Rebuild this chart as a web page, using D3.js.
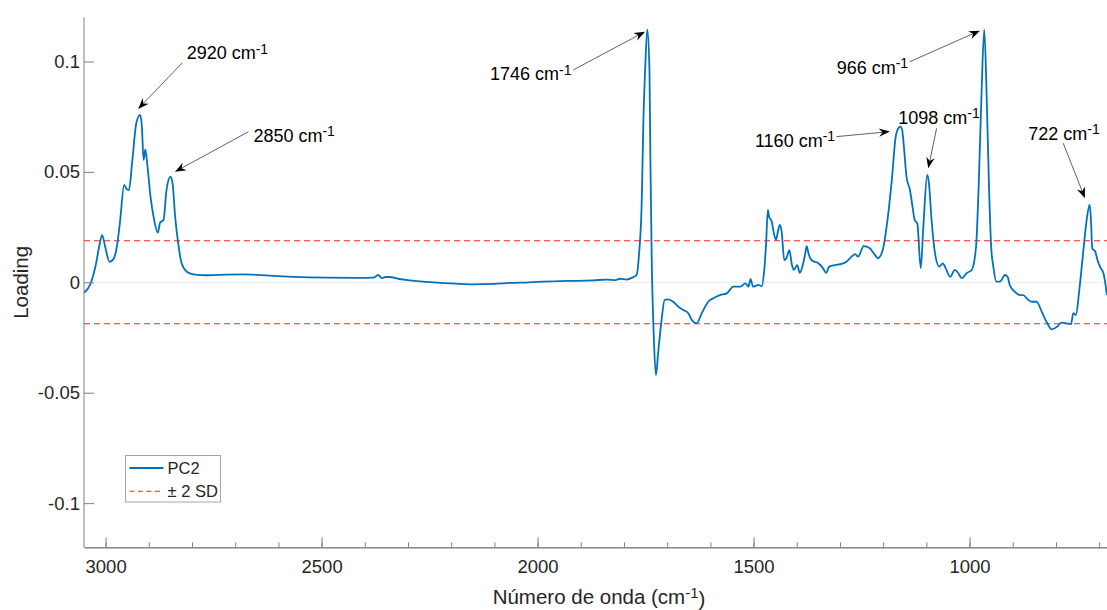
<!DOCTYPE html>
<html>
<head>
<meta charset="utf-8">
<script src="https://cdn.jsdelivr.net/npm/d3@7/dist/d3.min.js"></script>
<style>
  html, body { margin: 0; padding: 0; background: #fff; }
  svg { display: block; font-family: "Liberation Sans", Arial, sans-serif; }
</style>
</head>
<body>
<svg id="chart" width="1107" height="610"></svg>
<script>
// PC2 loading spectrum (wavenumber in cm^-1, loading)
const wavenumbers = [
  3050, 3036, 3022, 3015, 3008, 3001, 2991, 2982, 2974, 2967, 2957, 2951, 2946, 2938, 2929, 2920,
  2916, 2912, 2908, 2903, 2896, 2889, 2879, 2874, 2866, 2859, 2850, 2845, 2839, 2832, 2824, 2812,
  2797, 2766, 2720, 2681, 2620, 2566, 2488, 2420, 2380, 2369, 2360, 2352, 2342, 2320, 2295, 2241,
  2190, 2149, 2100, 2064, 2020, 1987, 1930, 1871, 1840, 1820, 1809, 1794, 1779, 1771, 1765, 1759,
  1755, 1751, 1746, 1741, 1739, 1736, 1731, 1726, 1721, 1713, 1706, 1698, 1686, 1674, 1663, 1651,
  1643, 1632, 1620, 1605, 1593, 1578, 1562, 1547, 1531, 1519, 1512, 1507, 1501, 1489, 1481, 1476,
  1471, 1467, 1464, 1458, 1453, 1448, 1443, 1439, 1435, 1429, 1424, 1417, 1412, 1407, 1399, 1393,
  1387, 1381, 1377, 1373, 1366, 1350, 1339, 1332, 1325, 1312, 1296, 1285, 1273, 1265, 1258, 1245,
  1231, 1219, 1212, 1201, 1192, 1180, 1171, 1164, 1160, 1156, 1152, 1146, 1138, 1132, 1127, 1121,
  1113, 1107, 1098, 1094, 1088, 1080, 1070, 1062, 1055, 1045, 1034, 1026, 1018, 1007, 995, 985,
  979, 973, 966, 960, 955, 950, 945, 938, 930, 918, 912, 907, 895, 883, 876, 864,
  856, 845, 833, 822, 810, 799, 787, 775, 765, 760, 754, 746, 738, 729, 722, 719,
  716, 709, 704, 696, 690, 682
];
const loadings = [
  -0.0047, -0.0012, 0.0086, 0.0161, 0.0214, 0.0161, 0.0093, 0.0104, 0.0161, 0.0267, 0.0441, 0.0421, 0.0418, 0.0554, 0.0720, 0.0758,
  0.0705, 0.0554, 0.0602, 0.0524, 0.0388, 0.0297, 0.0225, 0.0270, 0.0282, 0.0418, 0.0478, 0.0448, 0.0297, 0.0177, 0.0086, 0.0048,
  0.0036, 0.0032, 0.0035, 0.0036, 0.0030, 0.0025, 0.0021, 0.0020, 0.0021, 0.0033, 0.0019, 0.0024, 0.0024, 0.0015, 0.0009, 0.0000,
  -0.0006, -0.0009, -0.0007, -0.0003, 0.0000, 0.0003, 0.0006, 0.0009, 0.0012, 0.0010, 0.0016, 0.0012, 0.0023, 0.0033, 0.0131, 0.0358,
  0.0735, 0.0962, 0.1145, 0.0962, 0.0584, 0.0131, -0.0246, -0.0420, -0.0322, -0.0171, -0.0080, -0.0077, -0.0088, -0.0111, -0.0125, -0.0140,
  -0.0171, -0.0186, -0.0140, -0.0088, -0.0072, -0.0058, -0.0050, -0.0020, -0.0020, -0.0005, -0.0020, 0.0014, -0.0020, -0.0012, -0.0017, 0.0041,
  0.0177, 0.0328, 0.0297, 0.0275, 0.0222, 0.0192, 0.0237, 0.0260, 0.0229, 0.0101, 0.0109, 0.0146, 0.0086, 0.0056, 0.0078, 0.0043,
  0.0071, 0.0124, 0.0164, 0.0131, 0.0101, 0.0086, 0.0063, 0.0043, 0.0071, 0.0078, 0.0083, 0.0093, 0.0116, 0.0128, 0.0116, 0.0164,
  0.0154, 0.0124, 0.0109, 0.0146, 0.0252, 0.0463, 0.0660, 0.0700, 0.0705, 0.0690, 0.0614, 0.0478, 0.0418, 0.0342, 0.0282, 0.0267,
  0.0063, 0.0252, 0.0486, 0.0448, 0.0282, 0.0131, 0.0071, 0.0086, 0.0063, 0.0025, 0.0056, 0.0041, 0.0018, 0.0041, 0.0056, 0.0161,
  0.0433, 0.0811, 0.1145, 0.0811, 0.0433, 0.0161, 0.0071, 0.0003, 0.0003, 0.0033, 0.0025, -0.0012, -0.0043, -0.0058, -0.0058, -0.0080,
  -0.0088, -0.0088, -0.0133, -0.0178, -0.0213, -0.0204, -0.0183, -0.0186, -0.0189, -0.0140, -0.0148, -0.0035, 0.0116, 0.0282, 0.0352, 0.0282,
  0.0154, 0.0139, 0.0101, 0.0063, 0.0041, -0.0058
];

// ±2 SD threshold
const twoSD = 0.0188;

// Axis ticks
const xMajorTicks = [3000, 2500, 2000, 1500, 1000];
const xMinorTicks = [3000, 2900, 2800, 2700, 2600, 2500, 2400, 2300, 2200, 2100, 2000, 1900, 1800,
                     1700, 1600, 1500, 1400, 1300, 1200, 1100, 1000, 900, 800, 700];
const yTicks = [-0.1, -0.05, 0, 0.05, 0.1];
const yTickLabels = ["-0.1", "-0.05", "0", "0.05", "0.1"];

// Labelled peaks
const peakLabels = ["2920", "2850", "1746", "1160", "1098", "966", "722"];

// Legend entries
const legendLabels = ["PC2", "\u00B1 2 SD"];

// ---------- layout ----------
const plot = { left: 84, right: 1107.8, top: 17.3, bottom: 547.3 };
const blue = "#0072BD";
const red = "#FF2020";
const axisColor = "#7f7f7f";
const textColor = "#262626";

const svg = d3.select("#chart");

const x = d3.scaleLinear().domain([3050, 680]).range([plot.left, plot.right]);
const y = d3.scaleLinear().domain([-0.12, 0.12]).range([plot.bottom, plot.top]);

svg.append("defs").append("clipPath").attr("id", "plotclip")
  .append("rect")
  .attr("x", plot.left).attr("y", plot.top - 2)
  .attr("width", plot.right - plot.left).attr("height", plot.bottom - plot.top + 4);

// zero reference line
svg.append("line")
  .attr("x1", plot.left).attr("x2", plot.right)
  .attr("y1", y(0)).attr("y2", y(0))
  .attr("stroke", "#ebebeb").attr("stroke-width", 1);

// threshold lines
const sdGroup = svg.append("g").attr("clip-path", "url(#plotclip)");
[twoSD, -twoSD].forEach(v => {
  sdGroup.append("line")
    .attr("x1", plot.left).attr("x2", plot.right)
    .attr("y1", y(v)).attr("y2", y(v))
    .attr("stroke", red).attr("stroke-width", 1.1)
    .attr("stroke-dasharray", "6,4");
});

// spectrum
const pts = wavenumbers.map((w, i) => [w, loadings[i]]);
const line = d3.line()
  .x(d => x(d[0]))
  .y(d => y(d[1]))
  .curve(d3.curveMonotoneX);

svg.append("g").attr("clip-path", "url(#plotclip)")
  .append("path")
  .datum(pts)
  .attr("fill", "none")
  .attr("stroke", blue)
  .attr("stroke-width", 1.8)
  .attr("stroke-linejoin", "round")
  .attr("d", line);

// ---------- axes ----------
const xMinor = d3.axisBottom(x).tickValues(xMinorTicks).tickSize(-5).tickSizeOuter(0).tickFormat("");
const xMajor = d3.axisBottom(x).tickValues(xMajorTicks).tickSize(-10).tickSizeOuter(0)
  .tickPadding(13).tickFormat(d3.format("d"));

const gxMinor = svg.append("g").attr("transform", `translate(0,${plot.bottom})`).call(xMinor);
const gx = svg.append("g").attr("transform", `translate(0,${plot.bottom})`).call(xMajor);

const yAxis = d3.axisLeft(y).tickValues(yTicks).tickSize(-10).tickSizeOuter(0)
  .tickPadding(4).tickFormat((d, i) => yTickLabels[i]);
const gy = svg.append("g").attr("transform", `translate(${plot.left},0)`).call(yAxis);

[gxMinor, gx, gy].forEach(g => {
  g.select(".domain").attr("stroke", axisColor).attr("stroke-width", 1);
  g.selectAll(".tick line").attr("stroke", axisColor).attr("stroke-width", 1);
  g.selectAll(".tick text").attr("fill", textColor)
    .style("font-family", "'Liberation Sans', Arial, sans-serif").style("font-size", "18.5px");
});
gy.select(".domain").attr("d", `M0,${plot.top}V${plot.bottom}`);

// axis titles
const xTitle = svg.append("text")
  .attr("x", 599).attr("y", 604)
  .attr("text-anchor", "middle")
  .attr("fill", textColor).style("font-size", "20.5px");
xTitle.append("tspan").text("N\u00FAmero de onda (cm");
xTitle.append("tspan").attr("dy", "-0.42em").style("font-size", "15px").text("-1");
xTitle.append("tspan").attr("dy", "0.42em").text(")");

svg.append("text")
  .attr("transform", `translate(28,${y(0)}) rotate(-90)`)
  .attr("text-anchor", "middle")
  .attr("fill", textColor).style("font-size", "20.5px")
  .text("Loading");

// ---------- peak annotations ----------
// offsets (px) from each peak's plotted point: arrow tip, arrow tail, label start
const annotationLayout = {
  "2920": { tip: [-2, -6],    tail: [42, -52],  text: [46.5, -55.7] },
  "2850": { tip: [4.6, -5],   tail: [78, -45],  text: [83, -35] },
  "1746": { tip: [-2.3, 2.2], tail: [-74, 40.5], text: [-157.3, 51] },
  "1160": { tip: [-10.5, 5],  tail: [-64, 10],  text: [-145.5, 20.4] },
  "1098": { tip: [1, -6.7],   tail: [9.4, -46.7], text: [-29, -51] },
  "966":  { tip: [-4.3, 1.2], tail: [-74.3, 32.2], text: [-147.6, 44.5] },
  "722":  { tip: [-4.7, -6.3], tail: [-26.4, -61.3], text: [-61.4, -64.6] }
};

const annG = svg.append("g");
peakLabels.forEach(lbl => {
  const w = +lbl;
  const idx = wavenumbers.indexOf(w);
  const px = x(w), py = y(loadings[idx]);
  const L = annotationLayout[lbl];
  const tx = px + L.tip[0], ty = py + L.tip[1];
  const sx = px + L.tail[0], sy = py + L.tail[1];
  const ang = Math.atan2(ty - sy, tx - sx);
  const headLen = 11, headW = 4.2, notch = 7.5;
  // shaft ends inside the head
  const ex = tx - Math.cos(ang) * notch, ey = ty - Math.sin(ang) * notch;
  annG.append("line")
    .attr("x1", sx).attr("y1", sy).attr("x2", ex).attr("y2", ey)
    .attr("stroke", "#3a3a3a").attr("stroke-width", 0.8);
  // notched arrowhead
  const c = Math.cos(ang), s = Math.sin(ang);
  const bx = tx - c * headLen, by = ty - s * headLen;
  const p1 = [bx - s * headW, by + c * headW];
  const p2 = [bx + s * headW, by - c * headW];
  const pn = [tx - c * notch, ty - s * notch];
  annG.append("path")
    .attr("d", `M${tx},${ty}L${p1[0]},${p1[1]}L${pn[0]},${pn[1]}L${p2[0]},${p2[1]}Z`)
    .attr("fill", "#000");
  const t = annG.append("text")
    .attr("x", px + L.text[0]).attr("y", py + L.text[1])
    .attr("fill", "#000").style("font-size", "18px");
  t.append("tspan").text(lbl + " cm");
  t.append("tspan").attr("dy", "-0.4em").style("font-size", "14px").text("-1");
});

// ---------- legend ----------
const lg = svg.append("g").attr("transform", `translate(${plot.left + 41.5},455.5)`);
lg.append("rect")
  .attr("width", 95).attr("height", 46.5)
  .attr("fill", "#fff").attr("stroke", "#a6a6a6").attr("stroke-width", 1);
const legendStyles = [
  { stroke: blue, dash: null, width: 1.8 },
  { stroke: red, dash: "5,3.5", width: 1.1 }
];
legendLabels.forEach((lab, i) => {
  const cy = 12.5 + i * 23.3;
  lg.append("line")
    .attr("x1", 4).attr("x2", 38).attr("y1", cy).attr("y2", cy)
    .attr("stroke", legendStyles[i].stroke)
    .attr("stroke-width", legendStyles[i].width)
    .attr("stroke-dasharray", legendStyles[i].dash);
  lg.append("text")
    .attr("x", 42).attr("y", cy + 6)
    .attr("fill", textColor).style("font-size", "16.5px")
    .text(lab);
});
</script>
</body>
</html>
